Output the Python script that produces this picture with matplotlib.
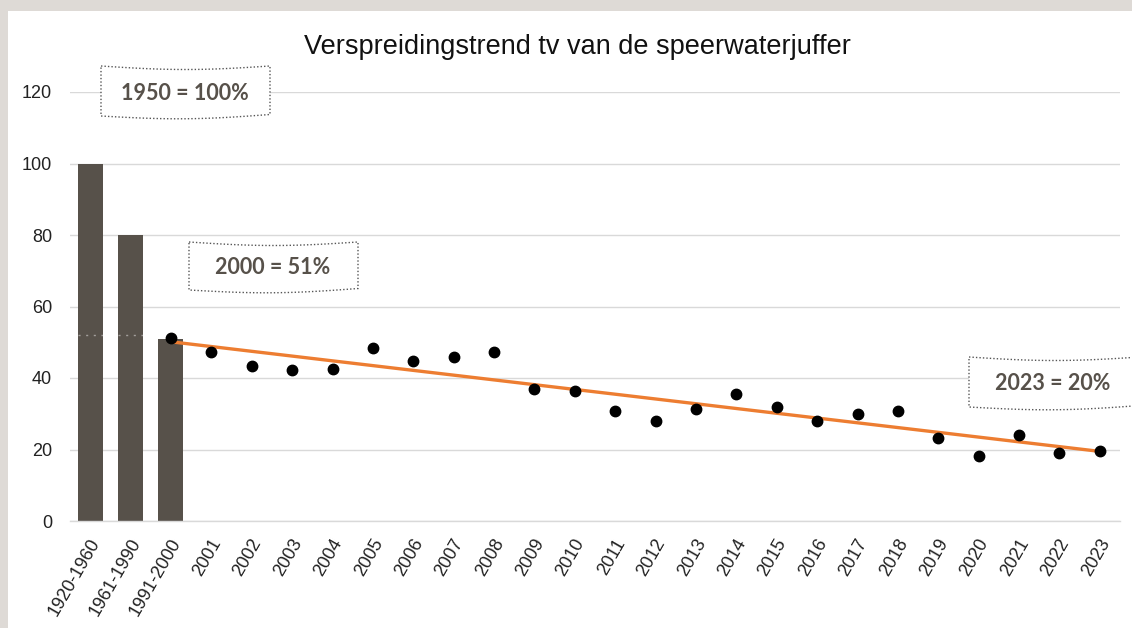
import numpy as np
import matplotlib
matplotlib.use("Agg")
import matplotlib.pyplot as plt
from matplotlib.patches import Polygon
from matplotlib.transforms import ScaledTranslation

# ---- data ----
categories = ["1920-1960", "1961-1990", "1991-2000"] + [str(y) for y in range(2001, 2024)]
bar_values = [100, 80, 51]
dot_values = [51.1, 47.2, 43.3, 42.2, 42.5, 48.3, 44.7, 45.8, 47.2, 36.9, 36.3,
              30.7, 27.9, 31.3, 35.5, 31.8, 27.9, 29.9, 30.7, 23.2, 18.2, 24.0,
              19.0, 19.6]
title = "Verspreidingstrend tv van de speerwaterjuffer"
notes = ["1950 = 100%", "2000 = 51%", "2023 = 20%"]
y_ticks = [0, 20, 40, 60, 80, 100, 120]

W, H = 1132, 628
fig = plt.figure(figsize=(W / 100, H / 100), dpi=100)
fig.patch.set_facecolor("#dedad6")

# white panel
panel = fig.add_axes([8 / W, 0, 1 - 8 / W, 1 - 11 / H])
panel.set_facecolor("white")
panel.set_xticks([]); panel.set_yticks([])
for s in panel.spines.values():
    s.set_visible(False)
panel.set_zorder(0)

ax = fig.add_axes([70 / W, (H - 521) / H, (1120 - 70) / W, (521 - 92) / H])
ax.set_zorder(1)
ax.patch.set_alpha(0)

x = np.arange(len(categories))
bar_x = x[:len(bar_values)]
dot_x = x[2:2 + len(dot_values)]

ax.bar(bar_x, bar_values, width=0.62, color="#57514a", zorder=2)
# faint white dash artefacts over first two bars
for bx in bar_x[:2]:
    ax.plot([bx - 0.31, bx + 0.31], [52, 52], color="white", lw=1.0,
            ls=(0, (1.5, 4)), alpha=0.45, zorder=3)

coef = np.polyfit(dot_x, dot_values, 1)
trend = np.polyval(coef, dot_x)
ax.plot(dot_x, trend, color="#ed7d31", lw=2.4, zorder=4, solid_capstyle="butt")
ax.plot(dot_x, dot_values, "o", color="black", ms=7.5, zorder=5)

ax.set_xlim(-0.5, len(categories) - 0.5)
ax.set_ylim(0, 120)
ax.set_yticks(y_ticks)
ax.set_yticklabels([str(v) for v in y_ticks], family="Liberation Sans",
                   fontsize=13, color="#222222")
ax.yaxis.grid(True, color="#d9d9d9", lw=1)
ax.set_axisbelow(True)
ax.tick_params(axis="y", length=0, pad=13)
ax.tick_params(axis="x", length=0, pad=11)
ax.set_xticks(x)
ax.set_xticklabels(categories, rotation=60, ha="right", va="center",
                   rotation_mode="anchor", family="Liberation Sans",
                   fontsize=13, color="#222222")
offset = ScaledTranslation(6 / 100, -4 / 100, fig.dpi_scale_trans)
for lbl in ax.get_xticklabels():
    lbl.set_transform(lbl.get_transform() + offset)
for s in ["top", "right", "left"]:
    ax.spines[s].set_visible(False)
ax.spines["bottom"].set_color("#d9d9d9")
ax.spines["bottom"].set_linewidth(1)

fig.text(577 / W, 1 - 47 / H, title, ha="center", va="center",
         family="Liberation Sans", fontsize=19.5, color="#111111")

# wavy dotted note boxes (pixel coordinates, top-left origin)
def wave_box(x0, y0, x1, y1, text, tx, ty):
    t = np.linspace(0, 1, 60)
    amp = 3.5
    top = [(x0 + (x1 - x0) * ti, y0 + amp * np.sin(np.pi * ti)) for ti in t]
    bot = [(x1 - (x1 - x0) * ti, y1 + amp * np.sin(np.pi * (1 - ti)) - 1.5 * (1 - ti)) for ti in t]
    pts = [(px / W, 1 - py / H) for px, py in top + bot]
    poly = Polygon(pts, closed=True, transform=fig.transFigure, facecolor="white",
                   edgecolor="#555555", lw=1.0, ls=(0, (1, 1.5)), zorder=10)
    fig.add_artist(poly)
    fig.text(tx / W, 1 - ty / H, text, ha="center", va="center", family="Lato",
             fontweight="bold", fontsize=15.5, color="#57514a", zorder=11)

wave_box(101, 66, 270, 116, notes[0], 185, 93)
wave_box(189, 242, 358, 290, notes[1], 273, 268)
wave_box(969, 357, 1140, 407, notes[2], 1053, 384)

fig.savefig("out.png", dpi=100, facecolor=fig.get_facecolor())
